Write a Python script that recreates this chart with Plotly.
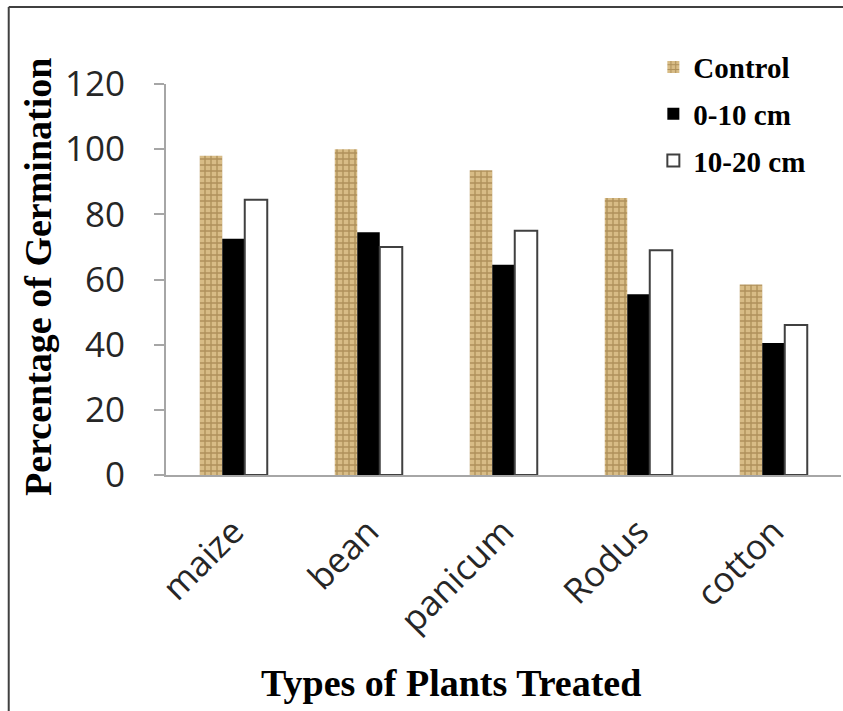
import plotly.graph_objects as go

categories = ["maize", "bean", "panicum", "Rodus", "cotton"]
control = [98, 100, 93.5, 85, 58.5]
depth_0_10 = [72.5, 74.5, 64.5, 55.5, 40.5]
depth_10_20 = [84.5, 70, 75, 69, 46]
y_ticks = [0, 20, 40, 60, 80, 100, 120]

serif = "Liberation Serif, Times New Roman, serif"
sans = "Open Sans, Calibri, sans-serif"

fig = go.Figure()
fig.add_trace(go.Bar(
    x=categories, y=control, name="Control",
    marker=dict(color="#c9a86c", line=dict(width=0),
                pattern=dict(shape="+", fgcolor="#86652f", bgcolor="#d8bc86",
                             size=6, solidity=0.4)),
    legendgroup="a",
))
fig.add_trace(go.Bar(
    x=categories, y=depth_0_10, name="0-10 cm",
    marker=dict(color="#000000", line=dict(width=0)),
    legendgroup="b",
))
fig.add_trace(go.Bar(
    x=categories, y=depth_10_20, name="10-20 cm",
    marker=dict(color="#ffffff", line=dict(color="#404040", width=2)),
    legendgroup="c",
))

fig.update_layout(
    width=843, height=711,
    margin=dict(l=166, r=2, t=84, b=236),
    paper_bgcolor="white", plot_bgcolor="white",
    barmode="group", bargap=0.5, bargroupgap=0,
    legend=dict(
        x=0.722, y=1.108, xanchor="left", yanchor="top",
        font=dict(family=serif, size=29, color="#000000", weight="bold"),
        tracegroupgap=6, bgcolor="rgba(0,0,0,0)",
    ),
    xaxis=dict(
        range=[-0.5, 4.5], showgrid=False, showline=True,
        linecolor="#a6a6a6", linewidth=2, ticks="",
        tickangle=-45, ticklabelstandoff=20,
        tickfont=dict(family=sans, size=35, color="#262626"),
    ),
    yaxis=dict(
        range=[0, 120], tickvals=y_ticks, showgrid=False, showline=True,
        linecolor="#a6a6a6", linewidth=2, ticks="outside", ticklen=10,
        tickcolor="#a6a6a6", tickwidth=2, ticklabelstandoff=22,
        tickfont=dict(family=sans, size=35, color="#262626"), zeroline=False,
    ),
    annotations=[
        dict(text="<b>Percentage of Germination</b>", textangle=-90,
             xref="paper", yref="paper", x=-0.19, y=0.506,
             xanchor="center", yanchor="middle", showarrow=False,
             font=dict(family=serif, size=38, color="#000000")),
        dict(text="<b>Types of Plants Treated</b>",
             xref="paper", yref="paper", x=0.422, y=-0.532,
             xanchor="center", yanchor="middle", showarrow=False,
             font=dict(family=serif, size=38, color="#000000")),
    ],
    shapes=[
        dict(type="line", xref="paper", yref="paper",
             x0=-0.233, x1=-0.233, y0=-0.62, y1=1.197,
             line=dict(color="#404040", width=2)),
        dict(type="line", xref="paper", yref="paper",
             x0=-0.233, x1=1.01, y0=1.197, y1=1.197,
             line=dict(color="#404040", width=2)),
    ],
)

fig.write_html(
    "out.html",
    config={"displayModeBar": False},
    post_script=(
        "document.documentElement.style.overflow='hidden';"
        "document.body.style.margin='0';document.body.style.overflow='hidden';"
    ),
)
